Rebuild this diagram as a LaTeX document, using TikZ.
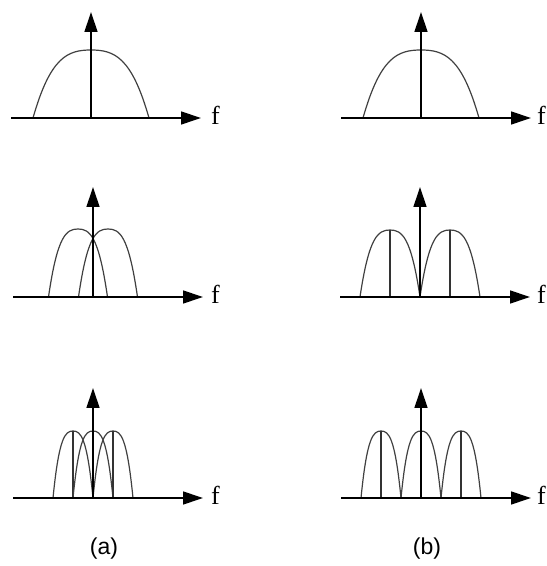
\documentclass[tikz,border=0pt]{standalone}
\usepackage{fontspec}
\setmainfont{Liberation Serif}
\newfontfamily\capfont{Liberation Sans}
\usepackage{tikz}
\usetikzlibrary{arrows.meta}
% one spectral lobe: centre, half width, height
\newcommand{\lobe}[3]{\draw[lobeline] ({#1-#2},0) .. controls ({#1-0.7*#2},{0.9*#3}) and ({#1-0.4*#2},#3) .. (#1,#3)
  .. controls ({#1+0.4*#2},#3) and ({#1+0.7*#2},{0.9*#3}) .. ({#1+#2},0);}

\begin{document}
\begin{tikzpicture}[x=1pt,y=1pt,
   ax/.style={line width=1.3pt,-{Triangle[length=20pt,width=13pt]}},
   lobeline/.style={draw=black!75,line width=1.2pt},
   mid/.style={draw=black!80,line width=1.1pt},
   flab/.style={anchor=base west,inner sep=0pt,font=\fontsize{26}{28}\selectfont},
   caplab/.style={anchor=base,inner sep=0pt,font=\capfont\fontsize{23}{26}\selectfont}]
  \useasboundingbox (0,0) rectangle (547,566);
  % (a) one carrier, two overlapping, three overlapping
  \begin{scope}[shift={(91,448)}]
    \lobe{0}{58}{68}
  \end{scope}
  \begin{scope}[shift={(93,269)}]
    \foreach \c in {-15,15}{\lobe{\c}{29.5}{68}}
  \end{scope}
  \begin{scope}[shift={(93,68)}]
    \foreach \c in {-20,0,20}{\lobe{\c}{20}{67}\draw[mid] (\c,0) -- (\c,67);}
  \end{scope}
  % (b) side by side carriers
  \begin{scope}[shift={(421,448)}]
    \lobe{0}{58}{68}
  \end{scope}
  \begin{scope}[shift={(420,269)}]
    \foreach \c in {-30,30}{\lobe{\c}{30}{67}\draw[mid] (\c,0) -- (\c,67);}
  \end{scope}
  \begin{scope}[shift={(421,68)}]
    \foreach \c in {-40,0,40}{\lobe{\c}{20}{67}\draw[mid] (\c,0) -- (\c,67);}
  \end{scope}
  % axes
  \foreach \px/\py/\tip/\fx/\n in {91/448/106/120/a1,93/269/110/118/a2,93/68/110/118/a3,421/448/106/116/b1,420/269/110/117/b2,421/68/110/116/b3}{
    \begin{scope}[shift={(\px,\py)}]
      \draw[ax] (-80,0) -- (110,0);
      \draw[ax] (0,0) -- (0,\tip);
      \node[flab] (f\n) at (\fx,-7) {f};
    \end{scope}}
  \node[caplab] (capa) at (104,11) {(a)};
  \node[caplab] (capb) at (427,11) {(b)};
\end{tikzpicture}
\end{document}
